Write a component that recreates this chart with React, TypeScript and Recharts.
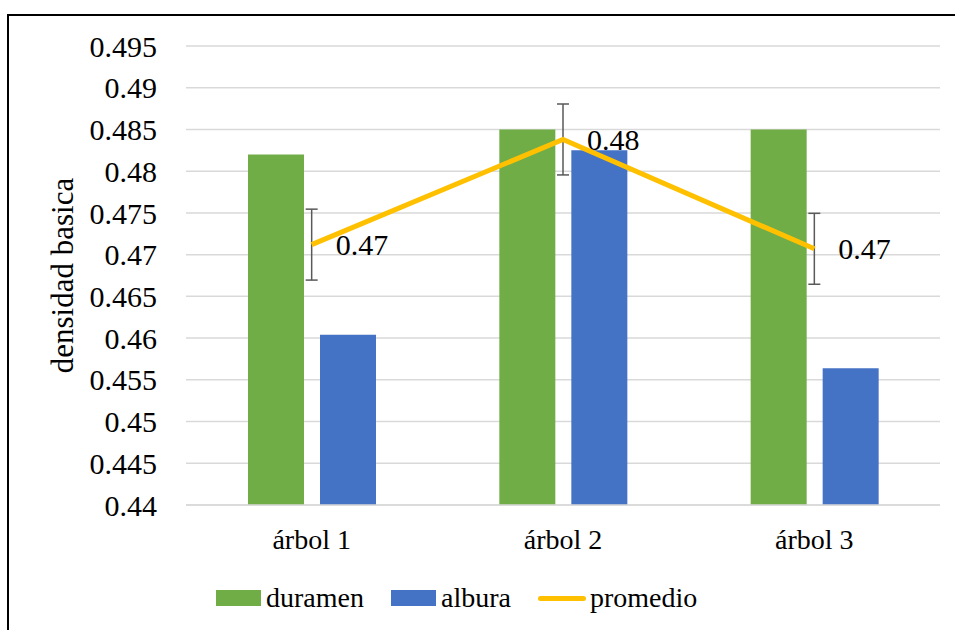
import {
  ComposedChart,
  Bar,
  Line,
  XAxis,
  YAxis,
  CartesianGrid,
  Legend,
  LabelList,
  ErrorBar,
} from 'recharts'

const categories = ['árbol 1', 'árbol 2', 'árbol 3']
const duramen = [0.482, 0.485, 0.485]
const albura = [0.4604, 0.4825, 0.4564]
const promedio = [0.4712, 0.4838, 0.4707]
const promedioError = [0.00425, 0.00425, 0.00425]
const yTicks = [0.44, 0.445, 0.45, 0.455, 0.46, 0.465, 0.47, 0.475, 0.48, 0.485, 0.49, 0.495]
const legendOrder = ['duramen', 'albura', 'promedio']

const FONT = '"Liberation Serif", "Times New Roman", serif'

const data = categories.map((cat, i) => ({
  name: cat,
  duramen: duramen[i],
  albura: albura[i],
  promedio: promedio[i],
  err: promedioError[i],
}))

function YLabel({ viewBox }: any) {
  const cx = viewBox.x + 33
  const cy = viewBox.y + viewBox.height / 2
  return (
    <text
      x={cx}
      y={cy}
      transform={`rotate(-90 ${cx} ${cy})`}
      textAnchor="middle"
      style={{ fontFamily: FONT, fontSize: 31, fill: '#000' }}
    >
      densidad basica
    </text>
  )
}

function renderLegend(props: any) {
  const payload = [...(props.payload ?? [])].sort(
    (a: any, b: any) => legendOrder.indexOf(a.value) - legendOrder.indexOf(b.value)
  )
  return (
    <div
      style={{
        display: 'flex',
        alignItems: 'center',
        fontFamily: FONT,
        fontSize: 28,
        lineHeight: '32px',
        color: '#000',
      }}
    >
      {payload.map((p: any, i: number) => (
        <div key={i} style={{ display: 'flex', alignItems: 'center', marginRight: 27 }}>
          {p.type === 'line' ? (
            <div style={{ width: 48, height: 5, borderRadius: 3, background: p.color, marginRight: 4 }} />
          ) : (
            <div style={{ width: 45, height: 16, background: p.color, marginRight: 5 }} />
          )}
          <span>{p.value}</span>
        </div>
      ))}
    </div>
  )
}

export default function App() {
  return (
    <div
      style={{
        position: 'fixed',
        left: 0,
        top: 0,
        width: 955,
        height: 630,
        background: '#fff',
        overflow: 'hidden',
        fontFamily: FONT,
      }}
    >
      <div
        style={{
          position: 'absolute',
          left: 7,
          top: 14,
          width: 1000,
          height: 700,
          borderLeft: '2px solid #000',
          borderTop: '2px solid #000',
        }}
      />
      <div style={{ position: 'absolute', left: 0, top: 0 }}>
        <ComposedChart
          width={955}
          height={630}
          data={data}
          margin={{ top: 46, right: 15, bottom: 65, left: 40 }}
          barSize={56}
          barGap={16}
          style={{ fontFamily: FONT }}
        >
          <CartesianGrid vertical={false} stroke="#d9d9d9" strokeWidth={1.5} />
          <XAxis
            dataKey="name"
            height={60}
            axisLine={{ stroke: '#d9d9d9', strokeWidth: 1.5 }}
            tickLine={false}
            tickMargin={18}
            tick={{ fontSize: 28, fill: '#000', style: { fontFamily: FONT } }}
          />
          <YAxis
            width={146}
            domain={[0.44, 0.495]}
            ticks={yTicks}
            axisLine={false}
            tickLine={false}
            tickMargin={23}
            tickFormatter={(v: number) => String(+v.toFixed(3))}
            tick={{ fontSize: 30, fill: '#000', style: { fontFamily: FONT } }}
            label={<YLabel />}
          />
          <Bar dataKey="duramen" name="duramen" fill="#70ad47" isAnimationActive={false} />
          <Bar dataKey="albura" name="albura" fill="#4472c4" isAnimationActive={false} />
          <Line
            dataKey="promedio"
            name="promedio"
            stroke="#ffc000"
            strokeWidth={5}
            dot={false}
            activeDot={false}
            isAnimationActive={false}
          >
            <ErrorBar dataKey="err" direction="y" width={6} stroke="#595959" strokeWidth={1.5} isAnimationActive={false} />
            <LabelList
              dataKey="promedio"
              position="right"
              offset={24}
              formatter={(v: any) => Number(v).toFixed(2)}
              style={{ fontFamily: FONT, fontSize: 30, fill: '#000' }}
            />
          </Line>
          <Legend
            verticalAlign="middle"
            content={renderLegend}
            wrapperStyle={{ left: 216, top: 582, width: 560 }}
          />
        </ComposedChart>
      </div>
    </div>
  )
}
